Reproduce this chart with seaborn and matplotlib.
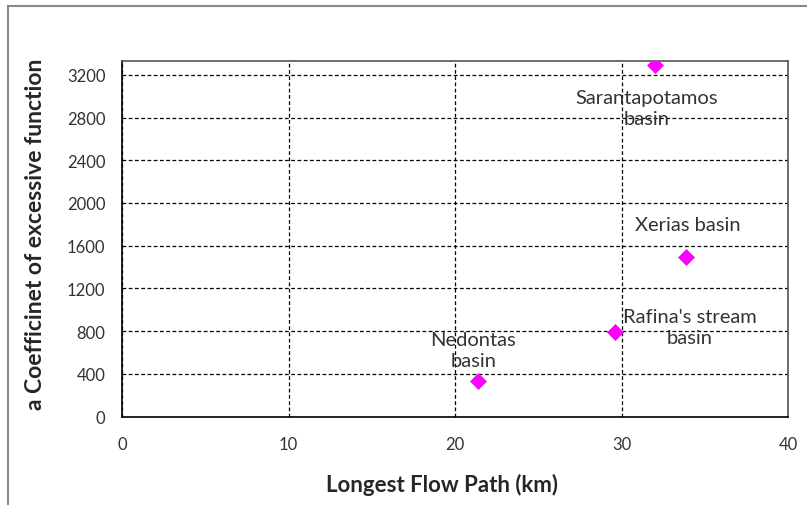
import matplotlib
matplotlib.use('Agg')
import matplotlib.pyplot as plt
import seaborn as sns
import pandas as pd
from matplotlib.patches import Rectangle

# dados
bacias = ['Sarantapotamos\nbasin', 'Xerias basin', "Rafina's stream\nbasin", 'Nedontas\nbasin']
comprimento = [32.0, 33.9, 29.6, 21.4]
coeficiente = [3295, 1490, 790, 335]
# posição dos rótulos (km, valor)
rot_x = [31.5, 34.0, 34.1, 21.1]
rot_y = [2890, 1800, 835, 620]

df = pd.DataFrame({'x': comprimento, 'y': coeficiente, 'nome': bacias})

sns.set_style('white')
plt.rcParams['font.family'] = ['Lato', 'DejaVu Sans']

fig = plt.figure(figsize=(8.07, 5.06), dpi=100)
ax = fig.add_axes([122 / 807, 1 - 417.5 / 506, (788 - 122) / 807, (417.5 - 62) / 506])

sns.scatterplot(data=df, x='x', y='y', marker='D', color='#ff00ff', s=75,
                edgecolor='#ff00ff', linewidth=0, ax=ax, zorder=3)

for i in range(len(df)):
    ax.text(rot_x[i], rot_y[i], bacias[i],
            ha='center', va='center', fontsize=14.5, color='#333333',
            linespacing=1.3, zorder=4)

ax.set_xlim(0, 40)
ax.set_ylim(0, 3330)
ax.set_xticks([0, 10, 20, 30, 40])
ax.set_yticks(range(0, 3201, 400))
ax.grid(True, color='black', linestyle=(0, (3, 2)), linewidth=0.9)
ax.tick_params(axis='both', labelsize=12, colors='#333333', length=0)
ax.tick_params(axis='x', pad=14)
ax.tick_params(axis='y', pad=12)

for lado in ['left', 'bottom']:
    ax.spines[lado].set_color('black')
    ax.spines[lado].set_linewidth(1.2)
for lado in ['top', 'right']:
    ax.spines[lado].set_color('#555555')
    ax.spines[lado].set_linewidth(1.2)

ax.set_xlabel('Longest Flow Path (km)', fontsize=16, fontweight='bold')
ax.set_ylabel('a Coefficinet of excessive function', fontsize=16.5, fontweight='bold')
ax.xaxis.set_label_coords(0.481, -0.16)
ax.yaxis.set_label_coords(-0.114, 0.516)

# moldura do gráfico
fig.patches.append(Rectangle((8 / 807, -0.05), 1.1, 1 - 7 / 506 + 0.05,
                             transform=fig.transFigure, fill=False,
                             edgecolor='#888888', linewidth=1.5))

fig.savefig('out.png', dpi=100)
